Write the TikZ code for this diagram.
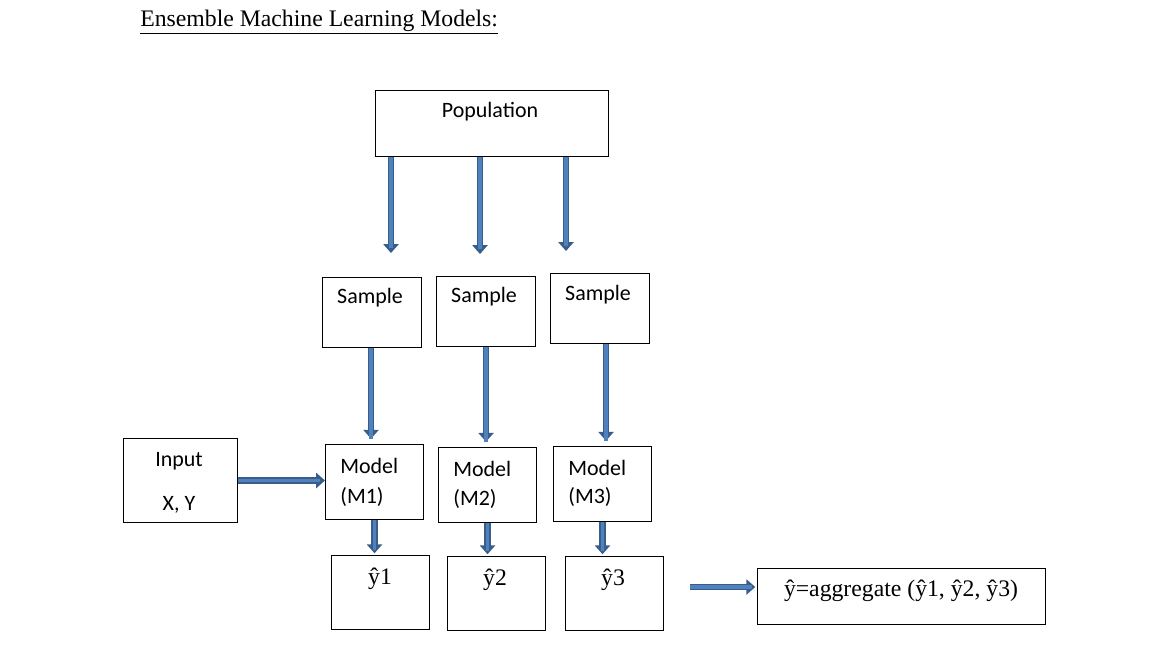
\documentclass[tikz,border=0pt]{standalone}
\usepackage{fontspec}
\setmainfont{Carlito}
\newfontfamily\timesfont{Liberation Serif}
\usetikzlibrary{arrows.meta}

\definecolor{arrowblue}{RGB}{79,129,189}
\definecolor{arrowedge}{RGB}{56,93,138}

\tikzset{
	box/.style = {draw, line width = 0.6pt, inner sep = 0pt, anchor = north west},
	txt/.style = {inner sep = 0pt, font = \fontsize{12.5}{14}\selectfont},
	serif/.style = {inner sep = 0pt, font = \timesfont\fontsize{13.5}{15}\selectfont},
	blockarrow/.style = {arrowedge, line width = 3.6pt, -{Triangle[length = 5pt, width = 8.5pt]},
		postaction = {draw = arrowblue, line width = 2pt, shorten > = 3pt, -}}
}

\begin{document}
\begin{tikzpicture}[x = 0.02cm, y = -0.02cm]
	 \useasboundingbox (0, 0) rectangle (1175, 659);
	 
	 \node[serif, anchor = base west] (title) at (140, 26) {\underline{Ensemble Machine Learning Models:}};
	 
	 % boxes
	 \node[box, minimum width = 4.66cm, minimum height = 1.32cm] (pop) at (375, 90) {};
	 \node[box, minimum width = 1.98cm, minimum height = 1.40cm] (s1) at (322, 277) {};
	 \node[box, minimum width = 1.98cm, minimum height = 1.40cm] (s2) at (436, 276) {};
	 \node[box, minimum width = 1.98cm, minimum height = 1.40cm] (s3) at (550, 273) {};
	 \node[box, minimum width = 2.28cm, minimum height = 1.68cm] (in) at (123, 438) {};
	 \node[box, minimum width = 1.96cm, minimum height = 1.50cm] (m1) at (325, 444) {};
	 \node[box, minimum width = 1.96cm, minimum height = 1.50cm] (m2) at (438, 447) {};
	 \node[box, minimum width = 1.96cm, minimum height = 1.50cm] (m3) at (553, 446) {};
	 \node[box, minimum width = 1.96cm, minimum height = 1.48cm] (y1) at (331, 555) {};
	 \node[box, minimum width = 1.96cm, minimum height = 1.48cm] (y2) at (447, 556) {};
	 \node[box, minimum width = 1.96cm, minimum height = 1.48cm] (y3) at (565, 556) {};
	 \node[box, minimum width = 5.76cm, minimum height = 1.12cm] (agg) at (757, 568) {};
	 
	 % texts
	 \node[txt] (pop-t) at (490, 112) {Population};
	 \node[txt] (s1-t) at (370, 298) {Sample};
	 \node[txt] (s2-t) at (484, 297) {Sample};
	 \node[txt] (s3-t) at (598, 295) {Sample};
	 \node[txt] (in-t) at (179, 461) {Input};
	 \node[txt] (xy-t) at (179, 505) {X, Y};
	 \node[txt, anchor = west] (m1-t) at (340, 466) {Model};
	 \node[txt, anchor = west] (m1-n) at (340, 497) {(M1)};
	 \node[txt, anchor = west] (m2-t) at (453, 469) {Model};
	 \node[txt, anchor = west] (m2-n) at (453, 499) {(M2)};
	 \node[txt, anchor = west] (m3-t) at (568, 468) {Model};
	 \node[txt, anchor = west] (m3-n) at (568, 497) {(M3)};
	 \node[serif] (y1-t) at (380, 579) {ŷ1};
	 \node[serif] (y2-t) at (495, 580) {ŷ2};
	 \node[serif] (y3-t) at (613, 580) {ŷ3};
	 \node[serif] (agg-t) at (901, 591) {ŷ=aggregate (ŷ1, ŷ2, ŷ3)};
	 
	 % arrows
	 \coordinate (a1) at (391, 253);
	 \coordinate (a2) at (480, 254);
	 \coordinate (a3) at (566, 251);
	 \draw[blockarrow] (pop.south -| a1) -- (a1);
	 \draw[blockarrow] (pop.south -| a2) -- (a2);
	 \draw[blockarrow] (pop.south -| a3) -- (a3);
	 
	 \draw[blockarrow, shorten > = 3pt] ([xshift = -0.02cm] s1.south) -- ([xshift = -0.02cm] m1.north -| s1.south);
	 \draw[blockarrow, shorten > = 3pt] (s2.south) -- (m2.north -| s2.south);
	 \draw[blockarrow, shorten > = 3pt] ([xshift = 0.12cm] s3.south) -- ([xshift = 0.12cm] m3.north -| s3.south);
	 
	 \draw[blockarrow, shorten > = 1pt] (m1.south) -- (m1.south |- y1.north);
	 \draw[blockarrow, shorten > = 1pt] (m2.south) -- (m2.south |- y2.north);
	 \draw[blockarrow, shorten > = 1pt] (m3.south) -- (m3.south |- y3.north);
	 
	 \draw[blockarrow] (in.east) -- (m1.west |- in.east);
	 
	 \coordinate (r1) at (690, 587);
	 \draw[blockarrow, shorten > = 1pt] (r1) -- (agg.west |- r1);
\end{tikzpicture}
\end{document}
